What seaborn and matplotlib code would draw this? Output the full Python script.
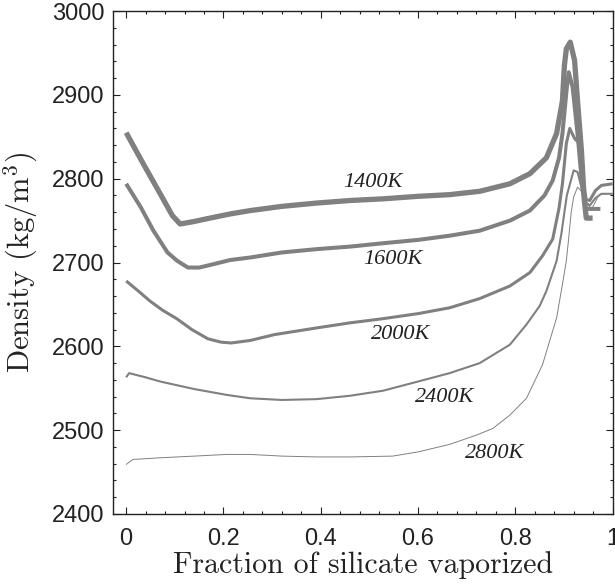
import numpy as np
import pandas as pd
import matplotlib
matplotlib.use("Agg")
import matplotlib.pyplot as plt
from matplotlib.ticker import MultipleLocator, FixedLocator, FixedFormatter
import seaborn as sns

sns.set_style("ticks")
plt.rcParams['mathtext.fontset'] = 'cm'
plt.rcParams['font.family'] = ['Liberation Sans', 'DejaVu Sans']

# --- data: fraction vaporized vs density (kg/m^3) ---
x_1400 = [0.000, 0.035, 0.070, 0.095, 0.111, 0.140, 0.172, 0.214, 0.255, 0.320,
          0.392, 0.460, 0.528, 0.600, 0.665, 0.727, 0.789, 0.830, 0.864, 0.885,
          0.897, 0.901, 0.905, 0.913, 0.922, 0.928, 0.936, 0.942, 0.946, 0.959]
y_1400 = [2855, 2818, 2782, 2756, 2746, 2749, 2753, 2758, 2762, 2767,
          2771, 2774, 2776, 2779, 2781, 2785, 2794, 2806, 2825, 2854,
          2893, 2935, 2955, 2963, 2941, 2893, 2834, 2774, 2753, 2753]

x_1600 = [0.000, 0.030, 0.056, 0.085, 0.105, 0.127, 0.150, 0.172, 0.214, 0.255,
          0.320, 0.392, 0.460, 0.528, 0.600, 0.665, 0.727, 0.789, 0.830, 0.860,
          0.877, 0.890, 0.897, 0.906, 0.910, 0.918, 0.928, 0.938, 0.945, 0.975]
y_1600 = [2794, 2766, 2738, 2712, 2702, 2694, 2694, 2697, 2703, 2706,
          2712, 2716, 2719, 2723, 2727, 2732, 2738, 2750, 2762, 2780,
          2798, 2825, 2854, 2909, 2927, 2909, 2854, 2789, 2764, 2764]

x_2000 = [0.000, 0.025, 0.049, 0.075, 0.104, 0.135, 0.168, 0.195, 0.216, 0.255,
          0.305, 0.392, 0.460, 0.528, 0.600, 0.665, 0.727, 0.789, 0.830, 0.856,
          0.877, 0.890, 0.897, 0.905, 0.912, 0.922, 0.930, 0.938, 0.946, 0.953,
          0.965, 0.977, 1.000]
y_2000 = [2678, 2666, 2654, 2643, 2633, 2620, 2609, 2605, 2604, 2607,
          2614, 2622, 2628, 2633, 2639, 2646, 2657, 2672, 2688, 2708,
          2728, 2765, 2794, 2842, 2860, 2848, 2843, 2800, 2775, 2774,
          2786, 2792, 2794]

x_2400 = [0.000, 0.006, 0.040, 0.070, 0.140, 0.207, 0.255, 0.320, 0.392, 0.460,
          0.528, 0.600, 0.665, 0.727, 0.789, 0.823, 0.850, 0.864, 0.885, 0.895,
          0.901, 0.906, 0.913, 0.920, 0.928, 0.936, 0.945, 0.953, 0.965, 0.977,
          1.000]
y_2400 = [2563, 2568, 2563, 2558, 2549, 2542, 2538, 2536, 2537, 2541,
          2547, 2558, 2568, 2580, 2602, 2626, 2648, 2666, 2702, 2735,
          2760, 2780, 2795, 2810, 2808, 2790, 2772, 2768, 2777, 2782,
          2782]

x_2800 = [0.000, 0.014, 0.070, 0.140, 0.207, 0.255, 0.320, 0.392, 0.460, 0.548,
          0.600, 0.665, 0.720, 0.754, 0.789, 0.823, 0.856, 0.885, 0.897, 0.905,
          0.910, 0.915, 0.920, 0.928, 0.936, 0.945, 0.957, 0.969]
y_2800 = [2459, 2465, 2467, 2469, 2471, 2471, 2469, 2468, 2468, 2469,
          2474, 2483, 2494, 2502, 2518, 2538, 2578, 2634, 2674, 2702,
          2730, 2760, 2778, 2790, 2785, 2772, 2764, 2777]

curves = [("1400K", x_1400, y_1400), ("1600K", x_1600, y_1600),
          ("2000K", x_2000, y_2000), ("2400K", x_2400, y_2400),
          ("2800K", x_2800, y_2800)]
widths = {"1400K": 3.8, "1600K": 2.9, "2000K": 2.2, "2400K": 1.5, "2800K": 0.7}

# label positions
label_names = ["1400K", "1600K", "2000K", "2400K", "2800K"]
label_x = [0.508, 0.548, 0.565, 0.655, 0.757]
label_y = [2795, 2704, 2614, 2539, 2472]

x_ticks = [0, 0.2, 0.4, 0.6, 0.8, 1.0]
x_ticklabels = ["0", "0.2", "0.4", "0.6", "0.8", "1"]
y_ticks = [2400, 2500, 2600, 2700, 2800, 2900, 3000]

fig = plt.figure(figsize=(6.15, 5.86), dpi=100)
ax = fig.add_axes([0.183, 0.123, 0.813, 0.858])

for name, xs, ys in curves:
    d = pd.DataFrame({"frac": xs, "rho": ys})
    sns.lineplot(data=d, x="frac", y="rho", sort=False, estimator=None,
                 color="#808080", linewidth=widths[name], ax=ax,
                 solid_joinstyle="round", solid_capstyle="butt")

for name, lx, ly in zip(label_names, label_x, label_y):
    ax.text(lx, ly, name, ha="center", va="center", fontsize=16,
            style="italic", family="Liberation Serif", color="#222222")

ax.set_xlim(-0.028, 1.0)
ax.set_ylim(2400, 3000)
ax.xaxis.set_major_locator(FixedLocator(x_ticks))
ax.xaxis.set_major_formatter(FixedFormatter(x_ticklabels))
ax.xaxis.set_minor_locator(MultipleLocator(0.04))
ax.yaxis.set_major_locator(FixedLocator(y_ticks))
ax.yaxis.set_minor_locator(MultipleLocator(20))
ax.tick_params(which="both", direction="in", top=True, right=True,
               colors="#222222", width=0.8)
ax.tick_params(which="major", length=5, labelsize=17)
ax.tick_params(axis="x", which="major", pad=10)
ax.tick_params(axis="y", which="major", pad=6)
ax.tick_params(which="minor", length=2.5)
for s in ax.spines.values():
    s.set_color("#222222")
    s.set_linewidth(1.0)

ax.set_xlabel("Fraction of silicate vaporized", family="cmr10", fontsize=21.5,
              color="#222222")
ax.set_ylabel(r"Density (kg/m$^3$)", family="cmr10", fontsize=22,
              color="#222222")
ax.xaxis.set_label_coords(0.5, -0.073)
ax.yaxis.set_label_coords(-0.145, 0.5)

fig.savefig("out.png", dpi=100)
